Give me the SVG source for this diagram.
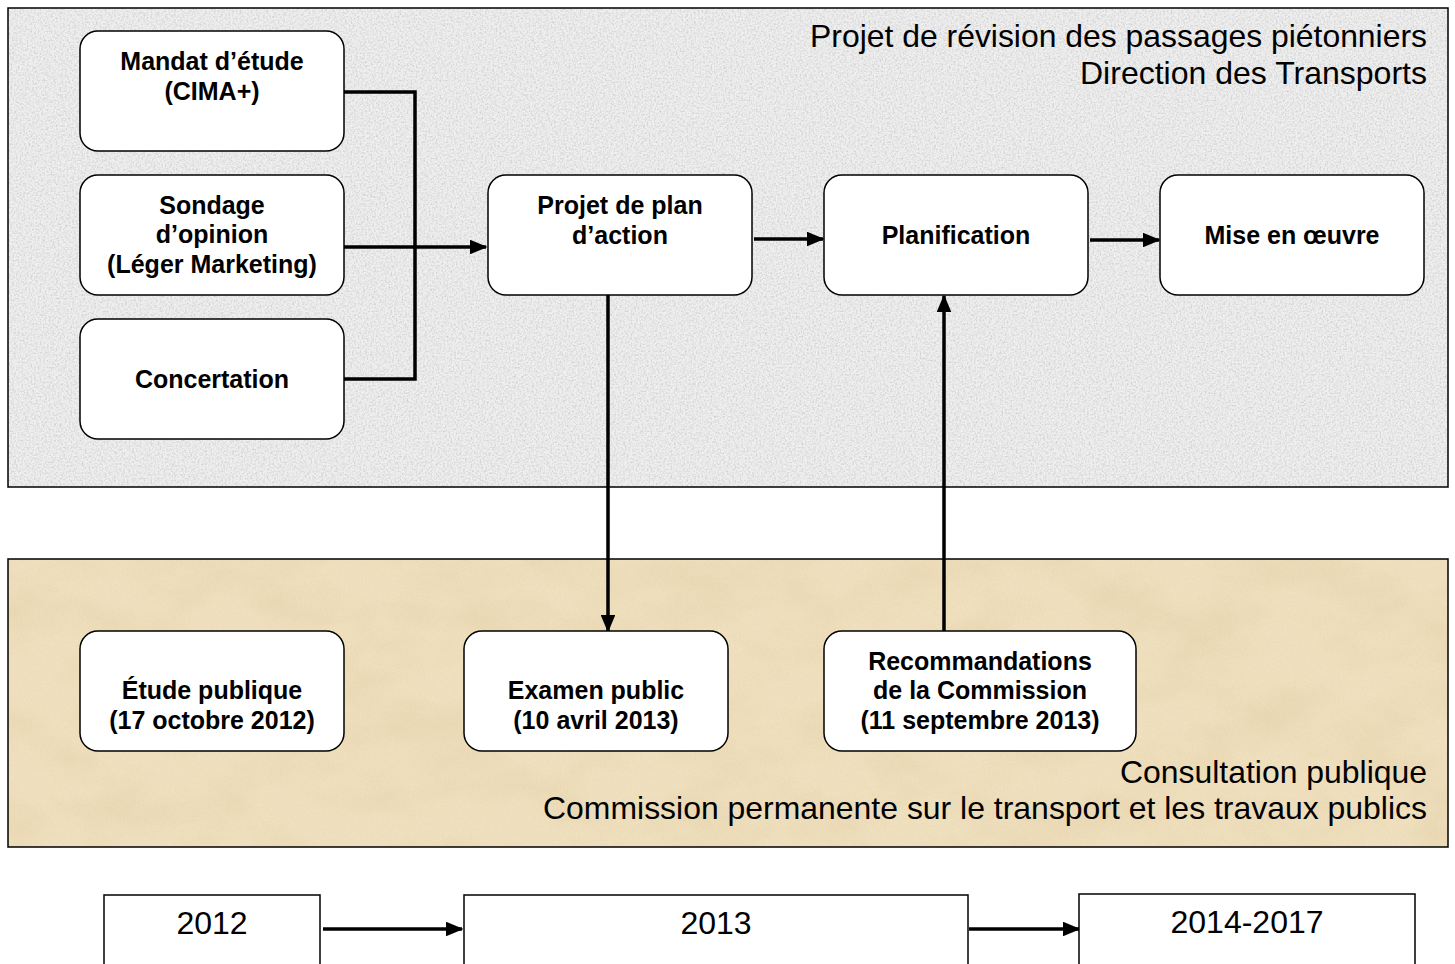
<svg xmlns="http://www.w3.org/2000/svg" width="1455" height="964" viewBox="0 0 1455 964">
<style>
.panel{stroke:#000;stroke-width:1.5;fill:none}
.node{fill:#fff;stroke:#000;stroke-width:1.5}
.yr{fill:#fff;stroke:#000;stroke-width:1.5}
.nt{font-family:"Liberation Sans",Arial,sans-serif;font-weight:bold;font-size:25px;text-anchor:middle;fill:#000}
.tt{font-family:"Liberation Sans",Arial,sans-serif;font-size:31.5px;text-anchor:end;fill:#000}
.yt{font-family:"Liberation Sans",Arial,sans-serif;font-size:32px;text-anchor:middle;fill:#000}
.c{stroke:#000;stroke-width:3.5;fill:none}
.ca{stroke:#000;stroke-width:3.5;fill:none;marker-end:url(#ah)}
</style>
<defs>
<marker id="ah" viewBox="0 0 12 10" refX="11" refY="5" markerWidth="5" markerHeight="4.2" orient="auto" markerUnits="strokeWidth">
<path d="M0,0 L12,5 L0,10 z" fill="#000"/>
</marker>
<filter id="grain" x="0" y="0" width="100%" height="100%">
<feTurbulence type="fractalNoise" baseFrequency="0.55" numOctaves="3" seed="4"/>
<feColorMatrix type="matrix" values="0 0 0 0 0.5  0 0 0 0 0.5  0 0 0 0 0.5  2 0 0 0 -0.8"/>
</filter>
<filter id="parch" x="0" y="0" width="100%" height="100%">
<feTurbulence type="fractalNoise" baseFrequency="0.012 0.02" numOctaves="4" seed="7"/>
<feColorMatrix type="matrix" values="0 0 0 0 0.78  0 0 0 0 0.62  0 0 0 0 0.38  1.6 0 0 0 -0.6"/>
</filter>
</defs>
<rect width="1455" height="964" fill="#fff"/>
<g id="panel-top">
<rect x="8" y="8" width="1440" height="479" fill="#efefef"/>
<rect x="8" y="8" width="1440" height="479" fill="#000" filter="url(#grain)" opacity="0.65"/>
<rect x="8" y="8" width="1440" height="479" class="panel"/>
<text class="tt" x="1427" y="47" textLength="617" lengthAdjust="spacingAndGlyphs">Projet de révision des passages piétonniers</text>
<text class="tt" x="1427" y="84" textLength="347" lengthAdjust="spacingAndGlyphs">Direction des Transports</text>
</g>
<g id="panel-bottom">
<rect x="8" y="559" width="1440" height="288" fill="#f0e0bd"/>
<rect x="8" y="559" width="1440" height="288" fill="#000" filter="url(#parch)" opacity="0.6"/>
<rect x="8" y="559" width="1440" height="288" fill="#000" filter="url(#grain)" opacity="0.15"/>
<rect x="8" y="559" width="1440" height="288" class="panel"/>
<text class="tt" x="1427" y="783" textLength="307" lengthAdjust="spacingAndGlyphs">Consultation publique</text>
<text class="tt" x="1427" y="819" textLength="884" lengthAdjust="spacingAndGlyphs">Commission permanente sur le transport et les travaux publics</text>
</g>
<g id="connectors">
<polyline class="c" points="344,92 415,92 415,379 344,379"/>
<line class="ca" x1="344" y1="247" x2="486" y2="247"/>
<line class="ca" x1="754" y1="239" x2="823" y2="239"/>
<line class="ca" x1="1090" y1="240" x2="1159" y2="240"/>
<line class="ca" x1="608" y1="295" x2="608" y2="631"/>
<line class="ca" x1="944" y1="631" x2="944" y2="296"/>
<line class="ca" x1="323" y1="929" x2="462" y2="929"/>
<line class="ca" x1="969" y1="929" x2="1079" y2="929"/>
</g>
<g id="n-mandat"><rect class="node" x="80" y="31" width="264" height="120" rx="18"/><text class="nt" x="212" y="70">Mandat d’étude</text><text class="nt" x="212" y="100">(CIMA+)</text></g>
<g id="n-sondage"><rect class="node" x="80" y="175" width="264" height="120" rx="18"/><text class="nt" x="212" y="214">Sondage</text><text class="nt" x="212" y="243">d’opinion</text><text class="nt" x="212" y="273">(Léger Marketing)</text></g>
<g id="n-concertation"><rect class="node" x="80" y="319" width="264" height="120" rx="18"/><text class="nt" x="212" y="388">Concertation</text></g>
<g id="n-projet"><rect class="node" x="488" y="175" width="264" height="120" rx="18"/><text class="nt" x="620" y="214">Projet de plan</text><text class="nt" x="620" y="244">d’action</text></g>
<g id="n-planif"><rect class="node" x="824" y="175" width="264" height="120" rx="18"/><text class="nt" x="956" y="244">Planification</text></g>
<g id="n-mise"><rect class="node" x="1160" y="175" width="264" height="120" rx="18"/><text class="nt" x="1292" y="244">Mise en œuvre</text></g>
<g id="n-etude"><rect class="node" x="80" y="631" width="264" height="120" rx="18"/><text class="nt" x="212" y="699">Étude publique</text><text class="nt" x="212" y="729">(17 octobre 2012)</text></g>
<g id="n-examen"><rect class="node" x="464" y="631" width="264" height="120" rx="18"/><text class="nt" x="596" y="699">Examen public</text><text class="nt" x="596" y="729">(10 avril 2013)</text></g>
<g id="n-recomm"><rect class="node" x="824" y="631" width="312" height="120" rx="18"/><text class="nt" x="980" y="670">Recommandations</text><text class="nt" x="980" y="699">de la Commission</text><text class="nt" x="980" y="729">(11 septembre 2013)</text></g>
<g id="y-2012"><rect class="yr" x="104" y="895" width="216" height="80"/><text class="yt" x="212" y="934">2012</text></g>
<g id="y-2013"><rect class="yr" x="464" y="895" width="504" height="80"/><text class="yt" x="716" y="934">2013</text></g>
<g id="y-2014"><rect class="yr" x="1079" y="894" width="336" height="80"/><text class="yt" x="1247" y="933">2014-2017</text></g>
</svg>
